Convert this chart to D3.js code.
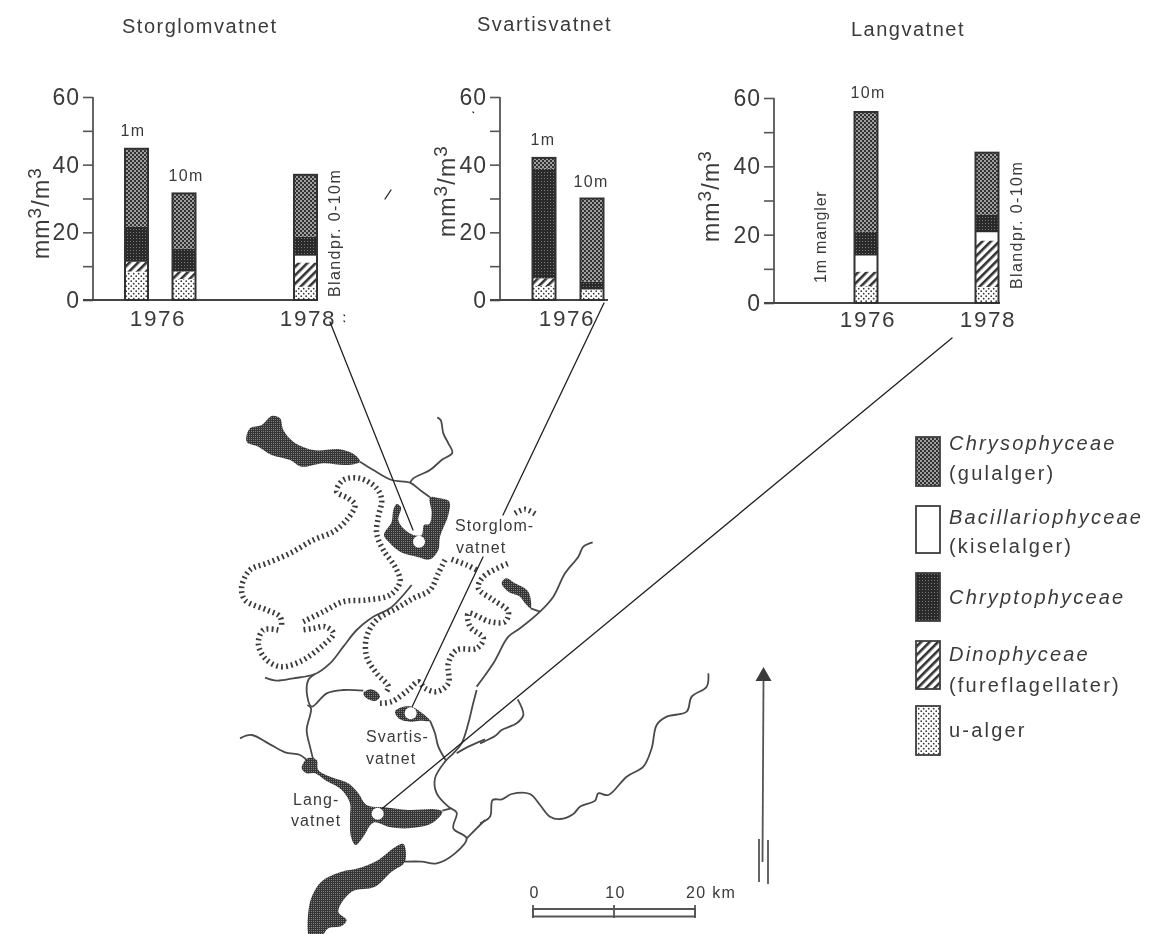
<!DOCTYPE html>
<html><head><meta charset="utf-8">
<script src="https://cdn.jsdelivr.net/npm/d3@7"></script>
<style>
html,body{margin:0;padding:0;background:#fff}
svg{display:block}
text{font-family:"Liberation Sans",Arial,sans-serif;fill:#3a3a3a}
</style></head><body>
<svg id="c" width="1152" height="934"></svg>
<script>
// ---------- chart data (mm3/m3) ----------
const lakeNames = ["Storglomvatnet","Svartisvatnet","Langvatnet"];
const barLake  = [0,0,0,1,1,2,2];
const barSlot  = ["1976 1m","1976 10m","1978","1976 1m","1976 10m","1976 10m","1978"];
const uAlger   = [8.4,6.2,3.9,4.1,3.1,4.9,4.7];
const dino     = [2.9,2.2,7.2,2.3,0,4.3,13.6];
const bacill   = [0,0,2.0,0,0,4.7,2.4];
const chrypto  = [10.3,6.8,5.6,32.4,2.3,7.0,5.1];
const chryso   = [23.1,16.3,18.3,3.2,24.6,35.0,18.2];
const seriesKeys = ["u","dino","bac","chrypto","chryso"];
const seriesValues = {u:uAlger,dino:dino,bac:bacill,chrypto:chrypto,chryso:chryso};
const yTicks = [0,10,20,30,40,50,60];
const yLabelled = [0,20,40,60];
const legendNames = [["Chrysophyceae","(gulalger)"],["Bacillariophyceae","(kiselalger)"],["Chryptophyceae"],["Dinophyceae","(fureflagellater)"],["u-alger"]];
const legendKeys = ["chryso","bac","chrypto","dino","u"];

// ---------- layout ----------
const panelAxisX = [93,500,774];
const panelEndX  = [318,608,1000];
const panelY0    = [300,300,303];
const panelY60   = [97,97,98];
const slotDomain = ["1976 1m","1976 10m","1978"];
const slotRange  = [[136.5,184,305.5],[544,592,700],[800,866,987]];
const barW = 23;
const yearX = [[158,308],[567],[868,988]];
const yearLab = [["1976","1978"],["1976"],["1976","1978"]];
const titleX = [122,477,851], titleY=[33,31,36];
const ylabX = [49,455,719], ylabY=[213,191,196];

const svg = d3.select("#c");
const defs = svg.append("defs");
const flt=defs.append("filter").attr("id","scan").attr("x",0).attr("y",0).attr("width","100%").attr("height","100%");
flt.append("feGaussianBlur").attr("stdDeviation",.4);
function pat(id,w,h,bg,draw,tf){
  const p=defs.append("pattern").attr("id",id).attr("patternUnits","userSpaceOnUse").attr("width",w).attr("height",h);
  if(tf)p.attr("patternTransform",tf);
  p.append("rect").attr("width",w).attr("height",h).attr("fill",bg);
  draw(p);
}
pat("chryso",4,4,"#333",p=>{[[1,1],[3,3]].forEach(d=>p.append("circle").attr("cx",d[0]).attr("cy",d[1]).attr("r",.95).attr("fill","#ccc"));});
pat("chrypto",3,3,"#2c2c2c",p=>{p.append("rect").attr("x",1).attr("y",1).attr("width",1).attr("height",1).attr("fill","#777");});
pat("dark",2,2,"#363636",p=>{p.append("rect").attr("x",1).attr("y",1).attr("width",1).attr("height",1).attr("fill","#808080");});
pat("dinoP",6,6,"#fff",p=>{p.append("rect").attr("width",2.6).attr("height",6).attr("fill","#333");},"rotate(45)");
pat("uP",5,5,"#fff",p=>{[[1.2,1.2],[3.7,3.7]].forEach(d=>p.append("circle").attr("cx",d[0]).attr("cy",d[1]).attr("r",.85).attr("fill","#333"));});
const fills={chryso:"url(#chryso)",chrypto:"url(#chrypto)",dino:"url(#dinoP)",u:"url(#uP)",bac:"#fff"};

const root=svg.append("g").attr("filter","url(#scan)");
root.append("rect").attr("width",1152).attr("height",934).attr("fill","#fff");

// ---------- bar panels ----------
const stackRows = barLake.map((_,i)=>Object.fromEntries(seriesKeys.map(k=>[k,seriesValues[k][i]])));
const stacked = d3.stack().keys(seriesKeys)(stackRows);

lakeNames.forEach((name,pi)=>{
  const y=d3.scaleLinear().domain([0,60]).range([panelY0[pi],panelY60[pi]]);
  const x=d3.scaleOrdinal().domain(slotDomain).range(slotRange[pi]);
  const g=root.append("g");
  g.append("text").attr("x",titleX[pi]).attr("y",titleY[pi])
    .style("font-size","20px").style("letter-spacing","1.5px").text(name);
  const ax=g.append("g").attr("transform",`translate(${panelAxisX[pi]},0)`)
    .call(d3.axisLeft(y).tickValues(yTicks).tickSize(10).tickPadding(3).tickFormat(d=>yLabelled.includes(d)?d:""));
  ax.select(".domain").attr("stroke","#555").attr("stroke-width",1.8).attr("d",`M0,${y(60)}V${y(0)}`);
  ax.selectAll("line").attr("stroke","#555").attr("stroke-width",1.6);
  ax.selectAll("text").style("font-size","23px").attr("fill","#3a3a3a").style("font-family",'"Liberation Sans"').style("letter-spacing","1px");
  const xs=d3.scaleOrdinal().domain(yearLab[pi]).range(yearX[pi]);
  const bx=g.append("g").attr("transform",`translate(0,${y(0)})`);
  bx.append("line").attr("x1",panelAxisX[pi]-10).attr("x2",panelEndX[pi]).attr("stroke","#444").attr("stroke-width",2);
  bx.selectAll("text").data(yearLab[pi]).join("text").attr("x",d=>xs(d)).attr("y",pi==2?24:26)
    .attr("text-anchor","middle").style("font-size","22.5px").style("letter-spacing","1.6px").text(d=>d);
  const yl=g.append("text").attr("transform",`translate(${ylabX[pi]},${ylabY[pi]}) rotate(-90)`).attr("text-anchor","middle")
    .style("font-size","23px").style("letter-spacing","1.2px");
  yl.append("tspan").text("mm");
  yl.append("tspan").attr("dy",-8).style("font-size","19px").text("3");
  yl.append("tspan").attr("dy",8).text("/m");
  yl.append("tspan").attr("dy",-8).style("font-size","19px").text("3");
  barLake.forEach((l,i)=>{
    if(l!==pi)return;
    const cx=x(barSlot[i]);
    stacked.forEach(s=>{
      const d=s[i]; if(d[1]-d[0]<=0)return;
      g.append("rect").attr("x",cx-barW/2).attr("width",barW).attr("y",y(d[1])).attr("height",y(d[0])-y(d[1]))
        .attr("fill",fills[s.key]).attr("stroke","none");
    });
    g.append("rect").attr("x",cx-barW/2).attr("width",barW).attr("y",y(stacked[4][i][1])).attr("height",y(0)-y(stacked[4][i][1]))
      .attr("fill","none").attr("stroke","#333").attr("stroke-width",2);
  });
});

// ---------- bar annotations ----------
const noteText=["1m","10m","1m","10m","10m"];
const noteX=[133,186,543,591,868], noteY=[136,181,145,187,98];
root.selectAll(".note").data(noteText).join("text").attr("class","note")
  .attr("x",(d,i)=>noteX[i]).attr("y",(d,i)=>noteY[i]).attr("text-anchor","middle")
  .style("font-size","16px").style("letter-spacing","1.3px").text(d=>d);
const vText=["Blandpr. 0-10m","1m mangler","Blandpr. 0-10m"];
const vX=[340,826,1022], vY=[297,283,289], vLs=[1.4,.8,1.4];
root.selectAll(".vn").data(vText).join("text").attr("class","vn")
  .attr("transform",(d,i)=>`translate(${vX[i]},${vY[i]}) rotate(-90)`)
  .style("font-size","16px").style("letter-spacing",(d,i)=>vLs[i]+"px").text(d=>d);

// ---------- map geometry in three local frames ----------
const xA=d3.scaleLinear().domain([0,1260]).range([200,620]), yA=d3.scaleLinear().domain([0,960]).range([400,720]);
const xD=d3.scaleLinear().domain([0,750]).range([235,485]), yD=d3.scaleLinear().domain([0,732]).range([690,934]);
const xE=d3.scaleLinear().domain([0,720]).range([480,720]), yE=d3.scaleLinear().domain([0,660]).range([660,880]);
const lineA=d3.line().x(d=>xA(d[0])).y(d=>yA(d[1]));
const lineD=d3.line().x(d=>xD(d[0])).y(d=>yD(d[1]));
const lineE=d3.line().x(d=>xE(d[0])).y(d=>yE(d[1]));

const lakesA=[
 [[150,85],[185,75],[215,48],[240,55],[250,90],[280,125],[340,150],[420,148],[465,165],[480,185],[440,195],[370,190],[305,200],[270,180],[215,165],[175,140],[140,125]],
 [[580,330],[590,312],[603,322],[595,360],[610,385],[640,405],[665,405],[672,375],[688,372],[695,340],[690,292],[720,295],[748,305],[745,345],[720,410],[715,450],[690,478],[650,470],[600,455],[570,430],[552,405],[575,365]],
 [[490,880],[510,868],[530,875],[540,890],[525,903],[500,895]],
 [[905,550],[918,535],[945,550],[985,575],[992,625],[975,610],[960,590],[925,575]]
];
const lakesD=[
 [[480,65],[500,52],[530,50],[560,68],[585,92],[555,92],[525,95],[495,88]],
 [[200,235],[218,205],[245,210],[250,240],[290,262],[340,280],[370,310],[395,345],[450,352],[520,360],[600,358],[622,365],[590,400],[520,415],[460,410],[415,398],[385,440],[362,465],[348,440],[345,380],[345,340],[320,300],[270,270],[240,250],[215,250]],
 [[505,462],[510,515],[470,545],[420,590],[350,605],[310,665],[335,690],[320,708],[280,715],[255,745],[225,745],[222,650],[240,600],[265,570],[320,545],[370,535],[430,510],[475,475]]
];
const riversA=[
 [[480,185],[520,210],[575,240],[630,248],[660,270],[690,292]],
 [[630,248],[640,235],[690,210],[725,180],[757,158],[745,130],[730,100],[722,60],[712,52]],
 [[195,833],[230,842],[280,835],[345,822],[390,790],[430,740],[470,690],[520,650],[570,625],[635,555]],
 [[345,822],[325,840],[322,890],[335,920],[380,880],[430,870],[490,872]],
 [[1178,427],[1150,440],[1135,470],[1095,520],[1060,590],[1020,635],[960,685],[925,710],[880,790],[830,860]],
 [[992,625],[1020,635]]
];
const riversD=[
 [[217,45],[228,55],[215,120],[225,170],[235,210]],
 [[15,145],[50,135],[100,160],[150,187],[195,195],[215,210]],
 [[585,92],[600,130],[610,170],[632,210]],
 [[725,0],[712,50],[700,100],[680,160],[655,190],[630,215],[600,265],[605,310],[640,350],[665,368],[655,415],[695,445],[660,490],[605,520],[560,515],[510,515]],
 [[622,362],[648,355]],
 [[750,148],[700,170],[665,190]],
 [[695,445],[750,390]]
];
const riversE=[
 [[0,490],[30,470],[38,420],[65,418],[95,402],[150,402],[180,435],[210,470],[240,477],[280,462],[300,440],[345,422],[355,400],[385,405],[440,350],[490,320],[515,265],[530,195],[560,170],[620,155],[635,110],[680,80],[685,40]],
 [[113,118],[130,165],[110,190],[65,210],[45,228],[0,250]]
];
const glacierA=[
 [[310,665],[370,635],[430,605],[500,600],[570,585],[600,545],[585,500],[550,450],[530,400],[535,350],[545,300],[530,265],[480,235],[430,240],[410,275],[445,295],[465,315],[440,360],[400,395],[340,420],[270,460],[200,490],[150,510],[125,560],[135,600],[200,630],[240,650],[245,680]],
 [[235,690],[190,690],[175,730],[195,775],[240,800],[300,785],[370,735],[400,700],[375,680],[340,685],[305,690]],
 [[735,480],[715,520],[690,570],[640,595],[590,625],[530,660],[500,710],[500,770],[530,820],[565,860],[555,880]],
 [[540,910],[575,905],[625,870],[655,845],[675,865],[710,875],[745,850],[745,790],[770,750],[830,745],[850,715],[810,680],[805,640],[870,665],[915,665],[925,635],[880,600],[835,565],[850,530],[925,490]],
 [[755,478],[800,495],[830,510]],
 [[945,340],[975,328],[1010,345]]
];
const markersA=[[657,425]], markersD=[[527,70],[428,371]];
const leaderLines=[[[330,322],[413,530]],[[604,303],[503,515]],[[483,557],[412,707]],[[952,338],[378,812]]];
const specks=[[[391,190],[385,199]],[[473,112],[473.6,112.6]],[[344,315],[344.5,315.5]],[[344,321],[344.5,321.5]]];

const m=root.append("g");
const closed=d3.curveCatmullRomClosed.alpha(.5), open=d3.curveCatmullRom.alpha(.5);
const riverStyle=s=>s.attr("fill","none").attr("stroke","#4a4a4a").attr("stroke-width",1.8);
riversA.forEach(r=>m.append("path").attr("d",lineA.curve(open)(r)).call(riverStyle));
riversD.forEach(r=>m.append("path").attr("d",lineD.curve(open)(r)).call(riverStyle));
riversE.forEach(r=>m.append("path").attr("d",lineE.curve(open)(r)).call(riverStyle));
lakesA.forEach(r=>m.append("path").attr("d",lineA.curve(closed)(r)).attr("fill","url(#dark)"));
lakesD.forEach(r=>m.append("path").attr("d",lineD.curve(closed)(r)).attr("fill","url(#dark)"));
glacierA.forEach(r=>m.append("path").attr("d",lineA.curve(open)(r)).attr("fill","none").attr("stroke","#3a3a3a").attr("stroke-width",5.5).attr("stroke-dasharray","1.8 3.2"));
leaderLines.concat(specks).forEach(l=>m.append("line").attr("x1",l[0][0]).attr("y1",l[0][1]).attr("x2",l[1][0]).attr("y2",l[1][1]).attr("stroke","#222").attr("stroke-width",1.3).attr("stroke-linecap","round"));
markersA.forEach(d=>m.append("circle").attr("cx",xA(d[0])).attr("cy",yA(d[1])).attr("r",6).attr("fill","#fff"));
markersD.forEach(d=>m.append("circle").attr("cx",xD(d[0])).attr("cy",yD(d[1])).attr("r",6).attr("fill","#fff"));

const mapText=["Storglom-","vatnet","Svartis-","vatnet","Lang-","vatnet"];
const mapTx=[455,456,366,366,293,291], mapTy=[531,553,742,764,805,826];
root.selectAll(".mt").data(mapText).join("text").attr("class","mt").attr("x",(d,i)=>mapTx[i]).attr("y",(d,i)=>mapTy[i])
  .style("font-size","16px").style("letter-spacing","1.1px").text(d=>d);

// ---------- scale bar ----------
const km=d3.scaleLinear().domain([0,20]).range([533,695]);
const sb=root.append("g");
sb.append("rect").attr("x",km(0)).attr("y",909).attr("width",km(20)-km(0)).attr("height",7.5).attr("fill","#fff").attr("stroke","#555").attr("stroke-width",2);
[0,10,20].forEach(k=>sb.append("line").attr("x1",km(k)).attr("x2",km(k)).attr("y1",905).attr("y2",918).attr("stroke","#555").attr("stroke-width",1.8));
sb.selectAll("text").data([0,10,20]).join("text").attr("x",d=>d==20?686:km(d)+1.5).attr("y",898)
  .attr("text-anchor",d=>d==20?"start":"middle").style("font-size","16px").style("letter-spacing","1.3px").text(d=>d==20?"20 km":d);

// ---------- north arrow ----------
const na=root.append("g").attr("stroke","#555").attr("stroke-width",1.8);
na.append("line").attr("x1",763.5).attr("x2",762.5).attr("y1",678).attr("y2",862);
na.append("line").attr("x1",759).attr("x2",759).attr("y1",839).attr("y2",882);
na.append("line").attr("x1",768).attr("x2",768).attr("y1",840).attr("y2",884);
na.append("path").attr("d",d3.line()([[763.5,667],[755.5,681],[771.5,681]])+"Z").attr("fill","#3a3a3a").attr("stroke","none");

// ---------- legend ----------
const swY=[437,506,573,641,706], swH=[49,47,48,48,49];
const legLineY=[[450,480],[524,553],[604],[661,692],[737]];
const lg=root.append("g");
legendKeys.forEach((k,i)=>{
  lg.append("rect").attr("x",916).attr("y",swY[i]).attr("width",24).attr("height",swH[i]).attr("fill",fills[k]).attr("stroke","#3f3f3f").attr("stroke-width",1.8);
  legendNames[i].forEach((t,j)=>{
    lg.append("text").attr("x",949).attr("y",legLineY[i][j])
      .style("font-size","20px").style("letter-spacing","2.2px")
      .style("font-style",(k!=="u"&&j===0)?"italic":"normal").text(t);
  });
});
</script></body></html>
